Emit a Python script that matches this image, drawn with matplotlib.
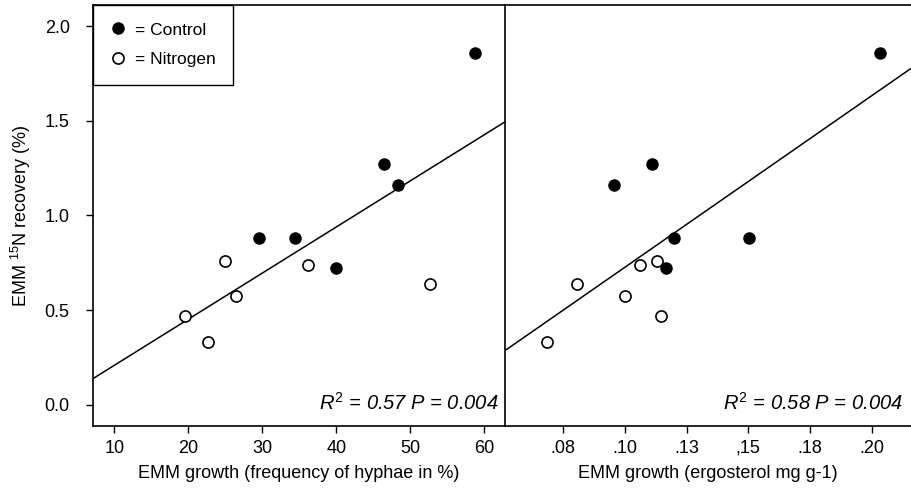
import matplotlib
matplotlib.use("Agg")
import matplotlib.pyplot as plt
import numpy as np

plt.rcParams['font.family'] = ['Liberation Sans', 'DejaVu Sans']
plt.rcParams['mathtext.fontset'] = 'custom'
plt.rcParams['mathtext.rm'] = 'Liberation Sans'
plt.rcParams['mathtext.it'] = 'Liberation Sans:italic'

# Recovery (%) values shared by both panels
control_recovery = [0.88, 0.88, 1.27, 1.16, 1.86, 0.72]
nitrogen_recovery = [0.76, 0.74, 0.575, 0.47, 0.33, 0.64]

# Left panel: frequency of hyphae (%)
control_hyphae = [29.6, 34.4, 46.4, 48.4, 58.8, 40.0]
nitrogen_hyphae = [25.0, 36.2, 26.4, 19.6, 22.6, 52.7]

# Right panel: ergosterol (mg g-1)
control_ergo = [0.1200, 0.1504, 0.1111, 0.0957, 0.2034, 0.1166]
nitrogen_ergo = [0.1130, 0.1062, 0.0999, 0.1145, 0.0684, 0.0807]

# Regression lines (slope, intercept)
fit_hyphae = (0.02435, -0.0354)
fit_ergo = (9.06, -0.180)

yticks = [0.0, 0.5, 1.0, 1.5, 2.0]
ytick_labels = ['0.0', '0.5', '1.0', '1.5', '2.0']
xticks_left = [10, 20, 30, 40, 50, 60]
xtick_labels_left = ['10', '20', '30', '40', '50', '60']
xticks_right = [0.075, 0.100, 0.125, 0.150, 0.175, 0.200]
xtick_labels_right = ['.08', '.10', '.13', ',15', '.18', '.20']

stat_left = r'$\mathit{R}^{\mathit{2}}$' + ' = 0.57 P = 0.004'
stat_right = r'$\mathit{R}^{\mathit{2}}$' + ' = 0.58 P = 0.004'

fig = plt.figure(figsize=(9.11, 4.9), dpi=100)
axL = fig.add_axes([0.1024, 0.1312, 0.4519, 0.8586])
axR = fig.add_axes([0.5543, 0.1312, 0.4457, 0.8586])

fs = 13
ms = 8
for ax, cx, nx, fit, xlim in [
    (axL, control_hyphae, nitrogen_hyphae, fit_hyphae, (7.15, 62.8)),
    (axR, control_ergo, nitrogen_ergo, fit_ergo, (0.0514, 0.2159)),
]:
    xs = np.array(xlim)
    ax.plot(xs, fit[0] * xs + fit[1], color='black', lw=1.1, zorder=1)
    ax.plot(cx, control_recovery, 'o', color='black', ms=ms, zorder=3, label='= Control')
    ax.plot(nx, nitrogen_recovery, 'o', mfc='white', mec='black', mew=1.2, ms=ms, zorder=3,
            label='= Nitrogen')
    ax.set_xlim(*xlim)
    ax.set_ylim(-0.111, 2.111)
    ax.tick_params(direction='out', length=5, width=1, labelsize=fs, colors='black')
    ax.tick_params(axis='x', pad=5)
    ax.tick_params(axis='y', pad=12)
    for s in ax.spines.values():
        s.set_linewidth(1.2)

axL.spines['right'].set_visible(False)
axR.spines['right'].set_visible(False)

axL.set_yticks(yticks)
axL.set_yticklabels(ytick_labels)
axL.set_xticks(xticks_left)
axL.set_xticklabels(xtick_labels_left)
axR.set_yticks([])
axR.set_xticks(xticks_right)
axR.set_xticklabels(xtick_labels_right)

axL.set_xlabel('EMM growth (frequency of hyphae in %)', fontsize=fs, labelpad=6)
axR.set_xlabel('EMM growth (ergosterol mg g-1)', fontsize=fs, labelpad=6)
axL.set_ylabel(r'EMM $^{15}$N recovery (%)', fontsize=fs, labelpad=8)

axL.text(0.985, 0.037, stat_left, transform=axL.transAxes, ha='right', va='baseline',
         fontsize=14.5, style='italic')
axR.text(0.98, 0.037, stat_right, transform=axR.transAxes, ha='right', va='baseline',
         fontsize=14.5, style='italic')

leg = axL.legend(loc='upper left', borderaxespad=0, fancybox=False, edgecolor='black',
                 framealpha=1, fontsize=12.5, handletextpad=0.6, borderpad=1.0,
                 labelspacing=0.85, handlelength=0.8)
leg.get_frame().set_linewidth(1.0)

fig.savefig('out.png', dpi=100)
